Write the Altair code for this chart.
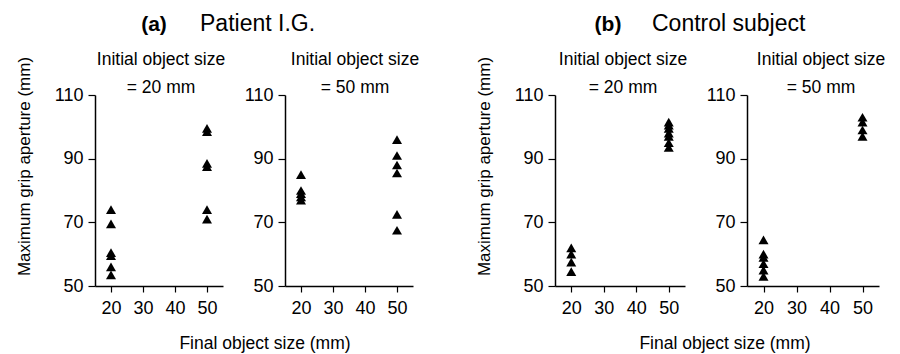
import altair as alt
import pandas as pd

# ---- data ----
final_sizes = [20, 50]
a1_at20 = [74, 69.5, 60.5, 59.5, 56, 53.5]
a1_at50 = [99.5, 98.5, 88.5, 87.5, 74, 71]
a2_at20 = [85, 80, 79, 78, 77]
a2_at50 = [96, 91, 88, 85.5, 72.5, 67.5]
b1_at20 = [62, 60, 57.5, 54.5]
b1_at50 = [101.5, 100.5, 99.5, 98, 97, 95, 93.5]
b2_at20 = [64.5, 60, 59, 57, 55, 53]
b2_at50 = [103, 101.5, 99, 97]

x_ticks = [20, 30, 40, 50]
y_ticks = [50, 70, 90, 110]
subtitle_top = "Initial object size"
size_labels = ["= 20 mm", "= 50 mm", "= 20 mm", "= 50 mm"]
group_labels = ["(a)", "(b)"]
group_names = ["Patient I.G.", "Control subject"]
y_title = "Maximum grip aperture (mm)"
x_title = "Final object size (mm)"

FONT = "Liberation Sans"
H = 191


def text_layer(s, x, y, size, weight="normal", align="center", baseline="alphabetic"):
    return alt.Chart(pd.DataFrame({"t": [s]})).mark_text(
        font=FONT, fontSize=size, fontWeight=weight, color="black",
        align=align, baseline=baseline,
    ).encode(text="t:N", x=alt.value(x), y=alt.value(y))


def panel(at20, at50, size_label, width, cx, left=False, head=None):
    df = pd.DataFrame({
        "final": [final_sizes[0]] * len(at20) + [final_sizes[1]] * len(at50),
        "mga": at20 + at50,
    })
    yaxis = dict(values=y_ticks, labelFontSize=18, labelFont=FONT,
                 tickSize=7, labelPadding=5, grid=False)
    if left:
        yaxis.update(title=y_title, titleFont=FONT, titleFontSize=17,
                     titleFontWeight="normal", titleX=-71, titleY=71,
                     titleAngle=270, titleAlign="center", titleBaseline="middle")
    else:
        yaxis.update(title=None)
    pts = alt.Chart(df).mark_point(
        shape="triangle-up", filled=True, color="black", opacity=1, size=100
    ).encode(
        x=alt.X("final:Q", scale=alt.Scale(domain=[15, 55], nice=False, zero=False),
                axis=alt.Axis(values=x_ticks, title=None, labelFontSize=18,
                              labelFont=FONT, tickSize=6, labelPadding=7, grid=False)),
        y=alt.Y("mga:Q", scale=alt.Scale(domain=[50, 110], nice=False, zero=False),
                axis=alt.Axis(**yaxis)),
    )
    layers = [pts,
              text_layer(subtitle_top, cx, -30, 17.5),
              text_layer(size_label, cx, -2, 17.5)]
    if head is not None:
        lab, name, lx, nx = head
        layers += [text_layer(lab, lx, -64, 21, weight="bold"),
                   text_layer(name, nx, -64, 23, align="left"),
                   text_layer(x_title, 170, 249, 17.5, baseline="middle")]
    return alt.layer(*layers).properties(width=width, height=H)


a1 = panel(a1_at20, a1_at50, size_labels[0], 128, 66, left=True,
           head=(group_labels[0], group_names[0], 59, 105))
a2 = panel(a2_at20, a2_at50, size_labels[1], 128, 70)
b1 = panel(b1_at20, b1_at50, size_labels[2], 130, 68, left=True,
           head=(group_labels[1], group_names[1], 53, 97))
b2 = panel(b2_at20, b2_at50, size_labels[3], 132, 74)

spacer = alt.Chart(pd.DataFrame({"v": [0]})).mark_point(opacity=0).encode(
    x=alt.X("v:Q", axis=None), y=alt.Y("v:Q", axis=None)
).properties(width=18, height=H)

chart = alt.hconcat(a1, a2, spacer, b1, b2, spacing=62, bounds="flush").configure_view(
    stroke=None
).configure_axis(
    domainColor="black", tickColor="black", labelColor="black", titleColor="black",
    domainWidth=1.5, tickWidth=1.2,
).properties(padding={"left": 7, "top": 5, "right": 3, "bottom": 0}, background="white")

chart.save("out.html", embed_options={"renderer": "svg", "actions": False})
